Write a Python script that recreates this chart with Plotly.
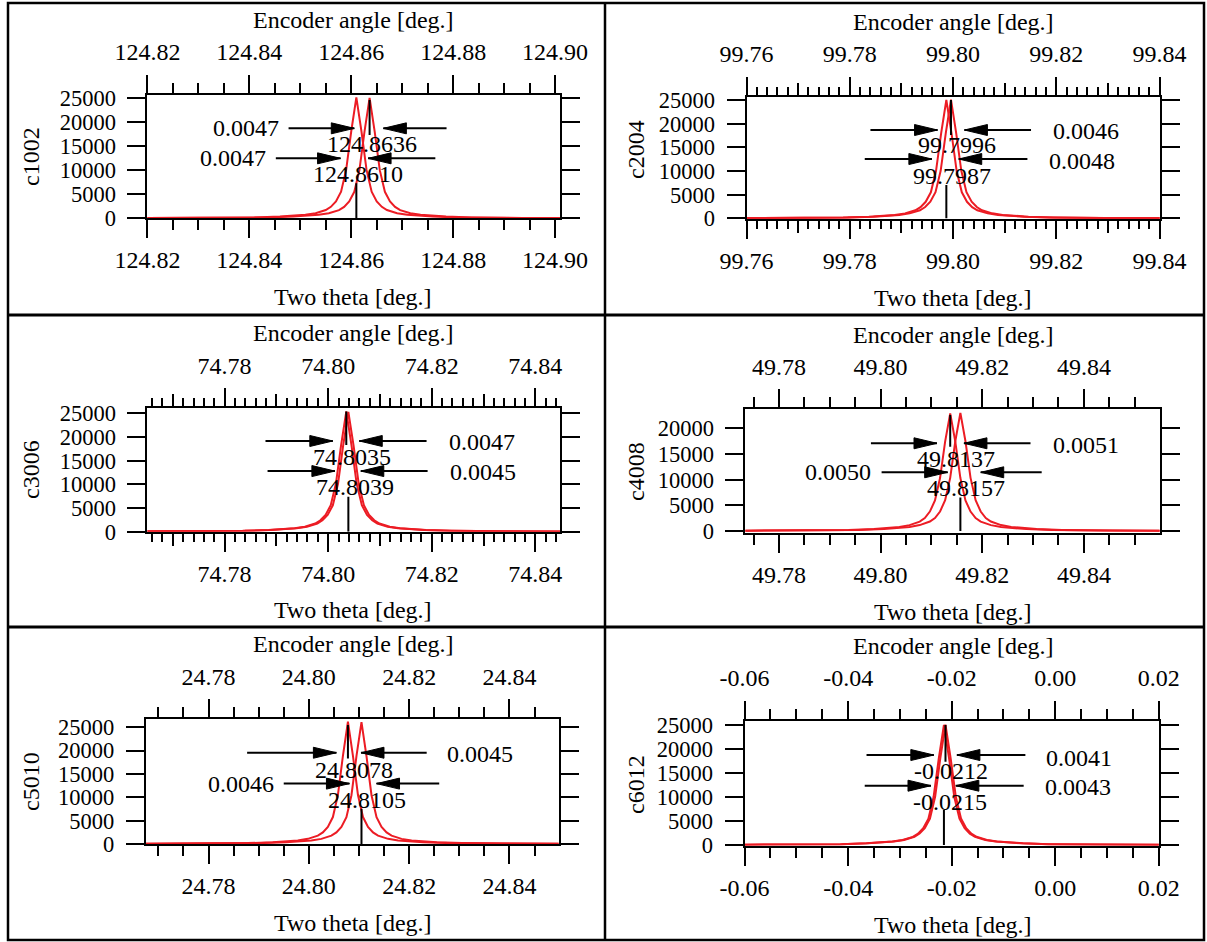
import numpy as np
import plotly.graph_objects as go

W, H = 1207, 942
FONT = "Liberation Serif, Times New Roman, serif"
RED = "#ec1c24"

# ---------------- data ----------------
panel_names = ["c1002", "c2004", "c3006", "c4008", "c5010", "c6012"]

# sample offsets (deg) from each peak centre
peak_offsets = [-0.045, -0.03, -0.02, -0.015, -0.01, -0.008, -0.006, -0.005,
                -0.004, -0.003, -0.002, -0.001, 0.0, 0.001, 0.002, 0.003,
                0.004, 0.005, 0.006, 0.008, 0.01, 0.015, 0.02, 0.03, 0.045]

# c1002
c1002_centres = [124.8636, 124.8610]
c1002_fwhm = ["0.0047", "0.0047"]
c1002_counts_upper = [38, 88, 188, 351, 728, 1054, 1707, 2385, 3514, 5522, 10040, 18072, 25100,
                      18072, 10040, 5522, 3514, 2385, 1707, 1054, 728, 351, 188, 88, 38]
c1002_counts_lower = [38, 88, 189, 353, 731, 1058, 1714, 2394, 3528, 5544, 10080, 18144, 25200,
                      18144, 10080, 5544, 3528, 2394, 1714, 1058, 731, 353, 189, 88, 38]
c1002_ticks = [124.82, 124.84, 124.86, 124.88, 124.90]
c1002_ticktext = ["124.82", "124.84", "124.86", "124.88", "124.90"]

# c2004
c2004_centres = [99.7996, 99.7987]
c2004_fwhm = ["0.0046", "0.0048"]
c2004_counts_upper = [38, 88, 188, 351, 728, 1054, 1707, 2385, 3514, 5522, 10040, 18072, 25100,
                      18072, 10040, 5522, 3514, 2385, 1707, 1054, 728, 351, 188, 88, 38]
c2004_counts_lower = [38, 88, 188, 350, 725, 1050, 1700, 2375, 3500, 5500, 10000, 18000, 25000,
                      18000, 10000, 5500, 3500, 2375, 1700, 1050, 725, 350, 188, 88, 38]
c2004_ticks = [99.76, 99.78, 99.80, 99.82, 99.84]
c2004_ticktext = ["99.76", "99.78", "99.80", "99.82", "99.84"]

# c3006
c3006_centres = [74.8035, 74.8039]
c3006_fwhm = ["0.0047", "0.0045"]
c3006_counts_upper = [38, 89, 191, 356, 737, 1067, 1727, 2413, 3556, 5588, 10160, 18288, 25400,
                      18288, 10160, 5588, 3556, 2413, 1727, 1067, 737, 356, 191, 89, 38]
c3006_counts_lower = [38, 89, 190, 354, 734, 1063, 1720, 2404, 3542, 5566, 10120, 18216, 25300,
                      18216, 10120, 5566, 3542, 2404, 1720, 1063, 734, 354, 190, 89, 38]
c3006_ticks = [74.78, 74.80, 74.82, 74.84]
c3006_ticktext = ["74.78", "74.80", "74.82", "74.84"]

# c4008
c4008_centres = [49.8137, 49.8157]
c4008_fwhm = ["0.0051", "0.0050"]
c4008_counts_upper = [39, 92, 206, 366, 779, 1145, 1832, 2519, 3779, 5954, 10305, 17404, 22900,
                      17404, 10305, 5954, 3779, 2519, 1832, 1145, 779, 366, 206, 92, 39]
c4008_counts_lower = [39, 92, 207, 368, 782, 1150, 1840, 2530, 3795, 5980, 10350, 17480, 23000,
                      17480, 10350, 5980, 3795, 2530, 1840, 1150, 782, 368, 207, 92, 39]
c4008_ticks = [49.78, 49.80, 49.82, 49.84]
c4008_ticktext = ["49.78", "49.80", "49.82", "49.84"]

# c5010
c5010_centres = [24.8078, 24.8105]
c5010_fwhm = ["0.0045", "0.0046"]
c5010_counts_upper = [39, 92, 197, 367, 760, 1100, 1782, 2489, 3668, 5764, 10480, 18864, 26200,
                      18864, 10480, 5764, 3668, 2489, 1782, 1100, 760, 367, 197, 92, 39]
c5010_counts_lower = [39, 91, 196, 365, 757, 1096, 1775, 2480, 3654, 5742, 10440, 18792, 26100,
                      18792, 10440, 5742, 3654, 2480, 1775, 1096, 757, 365, 196, 91, 39]
c5010_ticks = [24.78, 24.80, 24.82, 24.84]
c5010_ticktext = ["24.78", "24.80", "24.82", "24.84"]

# c6012
c6012_centres = [-0.0212, -0.0215]
c6012_fwhm = ["0.0041", "0.0043"]
c6012_counts_upper = [38, 88, 188, 351, 728, 1054, 1707, 2385, 3514, 5522, 10040, 18072, 25100,
                      18072, 10040, 5522, 3514, 2385, 1707, 1054, 728, 351, 188, 88, 38]
c6012_counts_lower = [38, 88, 188, 350, 725, 1050, 1700, 2375, 3500, 5500, 10000, 18000, 25000,
                      18000, 10000, 5500, 3500, 2375, 1700, 1050, 725, 350, 188, 88, 38]
c6012_ticks = [-0.06, -0.04, -0.02, 0.00, 0.02]
c6012_ticktext = ["-0.06", "-0.04", "-0.02", "0.00", "0.02"]

y_ticks_25k = [0, 5000, 10000, 15000, 20000, 25000]
y_ticks_20k = [0, 5000, 10000, 15000, 20000]

top_axis_title = "Encoder angle [deg.]"
bottom_axis_title = "Two theta [deg.]"

# ---------------- layout / positions (pixels & data units) ----------------
panels = [
    dict(name="c1002", centres=c1002_centres, fwhm=c1002_fwhm,
         counts=[c1002_counts_upper, c1002_counts_lower],
         xticks=c1002_ticks, xticktext=c1002_ticktext, yticks=y_ticks_25k,
         box=(147.4, 560.2, 95.0, 218.3), xrange=(124.82, 124.901), yrange=(0, 25700),
         minor_dtick=0.005, minor_len=10, mid=None,
         enc=(353, 20), two=(353, 297), ylab=(31, 157),
         fw_pos=[(124.8463, 18750, "right"), (124.8436, 12500, "right")],
         cen_pos=[(124.8640, 14580), (124.8614, 10070)],
         arrows=[(124.8477, 124.8606, 18750), (124.8787, 124.8663, 18750),
                 (124.8452, 124.8579, 12500), (124.8765, 124.8633, 12500)],
         marks=[(24650, 17360), (7300, 0)]),
    dict(name="c2004", centres=c2004_centres, fwhm=c2004_fwhm,
         counts=[c2004_counts_upper, c2004_counts_lower],
         xticks=c2004_ticks, xticktext=c2004_ticktext, yticks=y_ticks_25k,
         box=(746.5, 1159.6, 96.7, 219.3), xrange=(99.76, 99.84), yrange=(-200, 25700),
         minor_dtick=0.002, minor_len=8, mid=[99.77, 99.79, 99.81, 99.83],
         enc=(953, 22), two=(953, 298), ylab=(636, 150),
         fw_pos=[(99.8190, 18450, "left"), (99.8182, 12100, "left")],
         cen_pos=[(99.8007, 14650), (99.7998, 9860)],
         arrows=[(99.7840, 99.7970, 18660), (99.8151, 99.8022, 18660),
                 (99.7829, 99.7959, 12535), (99.8144, 99.8011, 12535)],
         marks=[(25000, 17600), (7040, 0)]),
    dict(name="c3006", centres=c3006_centres, fwhm=c3006_fwhm,
         counts=[c3006_counts_upper, c3006_counts_lower],
         xticks=c3006_ticks, xticktext=c3006_ticktext, yticks=y_ticks_25k,
         box=(147.4, 560.2, 408.3, 531.7), xrange=(74.7651, 74.8448), yrange=(0, 26050),
         minor_dtick=0.002, minor_len=8, mid=[74.77, 74.79, 74.81, 74.83],
         enc=(353, 333), two=(353, 610), ylab=(31, 470),
         fw_pos=[(74.8229, 19000, "left"), (74.8231, 12540, "left")],
         cen_pos=[(74.8046, 14930), (74.8052, 10200)],
         arrows=[(74.7879, 74.8009, 19150), (74.8190, 74.8060, 19150),
                 (74.7883, 74.8013, 12800), (74.8192, 74.8063, 12800)],
         marks=[(25350, 18300), (7400, 0)]),
    dict(name="c4008", centres=c4008_centres, fwhm=c4008_fwhm,
         counts=[c4008_counts_upper, c4008_counts_lower],
         xticks=c4008_ticks, xticktext=c4008_ticktext, yticks=y_ticks_20k,
         box=(745.4, 1159.6, 409.3, 533.3), xrange=(49.7734, 49.8549), yrange=(-450, 23700),
         minor_dtick=0.005, minor_len=10, mid=None,
         enc=(953, 335), two=(953, 612), ylab=(636, 472),
         fw_pos=[(49.8335, 16750, "left"), (49.7985, 11430, "right")],
         cen_pos=[(49.8148, 13300), (49.8168, 9090)],
         arrows=[(49.7981, 49.8111, 17080), (49.8295, 49.8164, 17080),
                 (49.8002, 49.8132, 11430), (49.8317, 49.8197, 11430)],
         marks=[(22600, 16430), (6500, 0)]),
    dict(name="c5010", centres=c5010_centres, fwhm=c5010_fwhm,
         counts=[c5010_counts_upper, c5010_counts_lower],
         xticks=c5010_ticks, xticktext=c5010_ticktext, yticks=y_ticks_25k,
         box=(145.8, 558.6, 719.3, 844.0), xrange=(24.7675, 24.8498), yrange=(0, 26700),
         minor_dtick=0.005, minor_len=10, mid=None,
         enc=(353, 644), two=(353, 923), ylab=(31, 782),
         fw_pos=[(24.8272, 19180, "left"), (24.7935, 12930, "right")],
         cen_pos=[(24.8090, 15090), (24.8116, 10270)],
         arrows=[(24.7877, 24.8055, 19540), (24.8235, 24.8104, 19540),
                 (24.7950, 24.8081, 12930), (24.8260, 24.8135, 12930)],
         marks=[(25500, 18300), (7540, 0)]),
    dict(name="c6012", centres=c6012_centres, fwhm=c6012_fwhm,
         counts=[c6012_counts_upper, c6012_counts_lower],
         xticks=c6012_ticks, xticktext=c6012_ticktext, yticks=y_ticks_25k,
         box=(744.6, 1158.8, 720.7, 845.7), xrange=(-0.06, 0.02), yrange=(-140, 25900),
         minor_dtick=0.005, minor_len=10, mid=None,
         enc=(953, 646), two=(953, 925), ylab=(636, 785),
         fw_pos=[(-0.0021, 18060, "left"), (-0.0023, 12000, "left")],
         cen_pos=[(-0.0201, 14580), (-0.0203, 9860)],
         arrows=[(-0.03645, -0.02345, 18750), (-0.00577, -0.0190, 18750),
                 (-0.0368, -0.0240, 12360), (-0.0061, -0.0192, 12360)],
         marks=[(25000, 17360), (7290, 0)]),
]

# small pixel nudge that keeps the two stacked centre labels apart
centre_label_shift = [4, -4]


def aid(prefix, n):
    return prefix if n == 1 else f"{prefix}{n}"


def lkey(prefix, n):
    return f"{prefix}axis" if n == 1 else f"{prefix}axis{n}"


def fmt_centre(v):
    return f"{v:.4f}"


tick_font = dict(family=FONT, size=24, color="black")
ytick_font = dict(family=FONT, size=22.5, color="black")
text_font = dict(family=FONT, size=24, color="black")
base_axis = dict(showgrid=False, zeroline=False, showline=True, linecolor="black",
                 linewidth=2, ticks="outside", tickcolor="black", tickwidth=2,
                 tickfont=tick_font, automargin=False)

fig = go.Figure()
shapes = []
annotations = []
axes = {}
extra_no = 13

for i, p in enumerate(panels):
    k = i + 1
    xl, xr, yt, yb = p["box"]
    xref, yref = aid("x", k), aid("y", k)
    minor = dict(ticks="outside", ticklen=p["minor_len"], tickwidth=2, tickcolor="black",
                 tickmode="linear", tick0=p["xticks"][0], dtick=p["minor_dtick"],
                 showgrid=False)
    xcommon = dict(base_axis, range=list(p["xrange"]), tickmode="array",
                   tickvals=p["xticks"], ticktext=p["xticktext"], ticklen=18,
                   minor=minor)
    axes[lkey("x", k)] = dict(xcommon, domain=[xl / W, xr / W], anchor=yref, side="bottom",
                              ticklabelstandoff=1)
    axes[lkey("x", k + 6)] = dict(xcommon, overlaying=xref, anchor=yref, side="top",
                                  ticklabelstandoff=5)
    axes[lkey("y", k)] = dict(base_axis, domain=[1 - yb / H, 1 - yt / H], anchor=xref,
                              range=list(p["yrange"]), tickmode="array",
                              tickvals=p["yticks"], ticktext=[str(v) for v in p["yticks"]],
                              ticklen=18, mirror="ticks", ticklabelstandoff=7,
                              tickfont=ytick_font)
    fig.add_trace(go.Scatter(x=[], y=[], xaxis=aid("x", k + 6), yaxis=yref,
                             showlegend=False, hoverinfo="skip"))
    if p["mid"]:
        for side in ("bottom", "top"):
            axes[lkey("x", extra_no)] = dict(showgrid=False, zeroline=False, showline=False,
                                             overlaying=xref, anchor=yref, side=side,
                                             range=list(p["xrange"]), tickmode="array",
                                             tickvals=p["mid"], ticks="outside", ticklen=13,
                                             tickwidth=2, tickcolor="black",
                                             showticklabels=False, automargin=False)
            fig.add_trace(go.Scatter(x=[], y=[], xaxis=aid("x", extra_no), yaxis=yref,
                                     showlegend=False, hoverinfo="skip"))
            extra_no += 1

    # peak curves
    for j in range(2):
        xs = p["centres"][j] + np.array(peak_offsets)
        fig.add_trace(go.Scatter(x=xs, y=p["counts"][j], mode="lines",
                                 line=dict(color=RED, width=2), xaxis=xref, yaxis=yref,
                                 showlegend=False, hoverinfo="skip"))

    # peak centre markers
    for j in range(2):
        y0, y1 = p["marks"][j]
        c = p["centres"][j]
        shapes.append(dict(type="line", xref=xref, yref=yref, x0=c, x1=c, y0=y0, y1=y1,
                           line=dict(color="black", width=2)))

    # FWHM arrows
    for tail, tip, yy in p["arrows"]:
        shapes.append(dict(type="line", xref=xref, yref=yref, x0=tail, x1=tip, y0=yy, y1=yy,
                           line=dict(color="black", width=2)))
        d = -1 if tip > tail else 1
        path = f"M0,0 L{23 * d},5.5 L{23 * d},-5.5 Z"
        shapes.append(dict(type="path", xref=xref, yref=yref, xsizemode="pixel",
                           ysizemode="pixel", xanchor=tip, yanchor=yy, path=path,
                           fillcolor="black", line=dict(color="black", width=1)))

    # FWHM labels and centre labels
    for j in range(2):
        fx, fy, anc = p["fw_pos"][j]
        annotations.append(dict(x=fx, y=fy, xref=xref, yref=yref, text=p["fwhm"][j],
                                showarrow=False, xanchor=anc, yanchor="middle", font=text_font))
        cx, cy = p["cen_pos"][j]
        annotations.append(dict(x=cx, y=cy, xref=xref, yref=yref,
                                text=fmt_centre(p["centres"][j]), showarrow=False,
                                xanchor="center", yanchor="middle", font=text_font,
                                yshift=centre_label_shift[j], borderpad=0))

    # titles
    ex, ey = p["enc"]
    annotations.append(dict(x=ex / W, y=1 - ey / H, xref="paper", yref="paper",
                            text=top_axis_title, showarrow=False, xanchor="center",
                            yanchor="middle", font=text_font))
    tx, ty = p["two"]
    annotations.append(dict(x=tx / W, y=1 - ty / H, xref="paper", yref="paper",
                            text=bottom_axis_title, showarrow=False, xanchor="center",
                            yanchor="middle", font=text_font))
    lx, ly = p["ylab"]
    annotations.append(dict(x=lx / W, y=1 - ly / H, xref="paper", yref="paper",
                            text=p["name"], showarrow=False, xanchor="center",
                            yanchor="middle", textangle=-90, font=text_font))

# panel frame lines
frame = dict(color="black", width=2.5)
shapes.append(dict(type="rect", xref="paper", yref="paper", x0=8 / W, x1=1204 / W,
                   y0=1 - 940 / H, y1=1 - 3 / H, line=frame))
shapes.append(dict(type="line", xref="paper", yref="paper", x0=605 / W, x1=605 / W,
                   y0=1 - 940 / H, y1=1 - 3 / H, line=frame))
for yy in (315, 627):
    shapes.append(dict(type="line", xref="paper", yref="paper", x0=8 / W, x1=1204 / W,
                       y0=1 - yy / H, y1=1 - yy / H, line=dict(color="black", width=3)))

fig.update_layout(
    template="none",
    width=W, height=H, autosize=False,
    margin=dict(l=0, r=0, t=0, b=0, pad=0),
    paper_bgcolor="white", plot_bgcolor="white",
    showlegend=False, hovermode=False,
    font=dict(family=FONT, color="black"),
    shapes=shapes, annotations=annotations,
    **axes,
)

fig.write_html(
    "out.html",
    config={"displayModeBar": False},
    post_script="document.body.style.margin='0';document.body.style.overflow='hidden';",
)
